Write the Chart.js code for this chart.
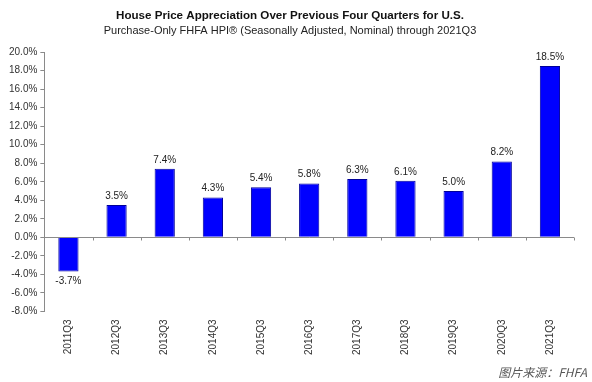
<!DOCTYPE html>
<html>
<head>
<meta charset="utf-8">
<script src="https://cdn.jsdelivr.net/npm/chart.js@4/dist/chart.umd.min.js"></script>
<style>
  html, body { margin:0; padding:0; background:#fff; }
  #wrap { position:relative; width:592px; height:382px; }
  #src { position:absolute; right:5px; top:364px; font: italic 12px "Noto Sans CJK SC", "Liberation Sans", sans-serif; color:#555; line-height:16px; }
</style>
</head>
<body>
<div id="wrap">
<canvas id="c" width="592" height="382"></canvas>
<div id="src">图片来源：FHFA</div>
</div>
<script>
const categories = ["2011Q3","2012Q3","2013Q3","2014Q3","2015Q3","2016Q3","2017Q3","2018Q3","2019Q3","2020Q3","2021Q3"];
const appreciation = [-3.7, 3.5, 7.4, 4.3, 5.4, 5.8, 6.3, 6.1, 5.0, 8.2, 18.5];
const yTicks = [20,18,16,14,12,10,8,6,4,2,0,-2,-4,-6,-8];

const FONT = "'Liberation Sans', Arial, sans-serif";

const zeroAxisPlugin = {
  id: 'zeroAxis',
  afterDatasetsDraw(chart) {
    const {ctx, chartArea, scales} = chart;
    const y0 = scales.y.getPixelForValue(0);
    ctx.save();
    ctx.strokeStyle = '#8a8a8a';
    ctx.lineWidth = 1;
    ctx.beginPath();
    ctx.moveTo(chartArea.left, Math.round(y0) + 0.5);
    ctx.lineTo(chartArea.right, Math.round(y0) + 0.5);
    const n = categories.length;
    for (let i = 1; i <= n; i++) {
      const x = Math.round((scales.x.getPixelForValue(i - 1) + scales.x.getPixelForValue(Math.min(i, n - 1))) / 2);
      const xx = i === n ? Math.round(chartArea.right) : x;
      ctx.moveTo(xx + 0.5, Math.round(y0) + 0.5);
      ctx.lineTo(xx + 0.5, Math.round(y0) + 3.5);
    }
    ctx.stroke();
    // value labels
    ctx.fillStyle = '#222';
    ctx.font = "10px " + FONT;
    ctx.textAlign = 'center';
    const meta = chart.getDatasetMeta(0);
    meta.data.forEach((bar, i) => {
      const v = appreciation[i];
      const txt = v.toFixed(1) + '%';
      if (v >= 0) {
        ctx.textBaseline = 'bottom';
        ctx.fillText(txt, bar.x, bar.y - 4);
      } else {
        ctx.textBaseline = 'top';
        ctx.fillText(txt, bar.x, bar.y + 5);
      }
    });
    ctx.restore();
  }
};

new Chart(document.getElementById('c'), {
  type: 'bar',
  data: {
    labels: categories,
    datasets: [{
      data: appreciation,
      backgroundColor: '#0000ff',
      borderColor: '#00009a',
      borderWidth: 1,
      barPercentage: 0.42,
      categoryPercentage: 1.0
    }]
  },
  options: {
    responsive: false,
    animation: false,
    layout: { padding: { left: 6, right: 18, top: 0, bottom: 19 } },
    plugins: {
      legend: { display: false },
      tooltip: { enabled: false },
      title: {
        display: true,
        text: 'House Price Appreciation Over Previous Four Quarters for U.S.',
        font: { family: FONT, size: 11.6, weight: 'bold' },
        color: '#111',
        padding: { top: 9, bottom: 1 }
      },
      subtitle: {
        display: true,
        text: 'Purchase-Only FHFA HPI® (Seasonally Adjusted, Nominal) through 2021Q3',
        font: { family: FONT, size: 11 },
        color: '#222',
        padding: { top: 0, bottom: 15 }
      }
    },
    scales: {
      x: {
        grid: { display: false, drawTicks: false },
        border: { display: false },
        ticks: {
          minRotation: 90, maxRotation: 90,
          font: { family: FONT, size: 10 },
          color: '#333',
          padding: 8
        }
      },
      y: {
        min: -8, max: 20,
        afterBuildTicks(scale) { scale.ticks = yTicks.map(v => ({ value: v })); },
        grid: {
          display: true,
          drawOnChartArea: false,
          tickLength: 4,
          tickColor: '#8a8a8a'
        },
        border: { display: true, color: '#8a8a8a' },
        ticks: {
          callback: v => v.toFixed(1) + '%',
          font: { family: FONT, size: 10 },
          color: '#333',
          padding: 3
        }
      }
    }
  },
  plugins: [zeroAxisPlugin]
});
</script>
</body>
</html>
